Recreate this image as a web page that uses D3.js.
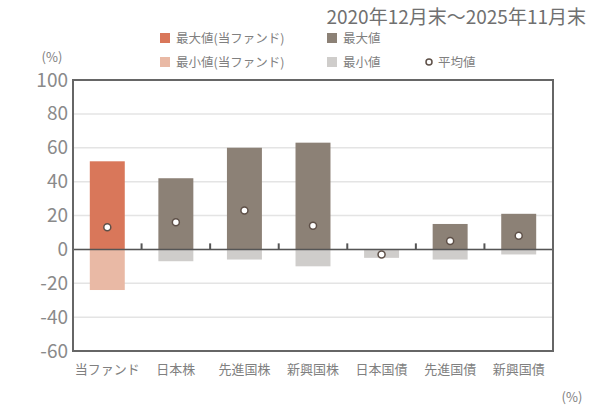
<!DOCTYPE html>
<html>
<head>
<meta charset="utf-8">
<script src="https://cdn.jsdelivr.net/npm/d3@7"></script>
<style>
body { margin: 0; background: #fff; }
text { font-family: "Noto Sans CJK JP", "Noto Sans", sans-serif; }
</style>
</head>
<body>
<div id="chart"></div>
<script>
var width = 596,
    height = 408;

var categories = ["当ファンド", "日本株", "先進国株", "新興国株", "日本国債", "先進国債", "新興国債"];
var maxValues = [52, 42, 60, 63, 0, 15, 21];
var minValues = [-24, -7, -6, -10, -5, -6, -3];
var avgValues = [13, 16, 23, 14, -3, 5, 8];
var yTicks = [-60, -40, -20, 0, 20, 40, 60, 80, 100];

var margin = {left: 73, right: 43, top: 80, bottom: 57};

var svg = d3.select("#chart").append("svg")
    .attr("width", width)
    .attr("height", height);

var x = d3.scaleBand()
    .domain(categories)
    .range([margin.left, width - margin.right])
    .paddingInner(0.49)
    .paddingOuter(0.245);

var y = d3.scaleLinear()
    .domain([-60, 100])
    .range([height - margin.bottom, margin.top]);

// gridlines
svg.selectAll("line.grid")
    .data(yTicks)
    .enter().append("line")
    .attr("class", "grid")
    .attr("x1", margin.left)
    .attr("x2", width - margin.right)
    .attr("y1", function (d) { return y(d); })
    .attr("y2", function (d) { return y(d); })
    .style("stroke", "#e4e4e4")
    .style("stroke-width", 1.5);

// bars
var data = categories.map(function (c, i) {
    return {cat: c, max: maxValues[i], min: minValues[i], avg: avgValues[i], fund: i === 0};
});

svg.selectAll("rect.min")
    .data(data)
    .enter().append("rect")
    .attr("class", "min")
    .attr("x", function (d) { return x(d.cat); })
    .attr("width", x.bandwidth())
    .attr("y", y(0))
    .attr("height", function (d) { return y(d.min) - y(0); })
    .style("fill", function (d) { return d.fund ? "#e9b9a5" : "#cfcdcb"; });

svg.selectAll("rect.max")
    .data(data)
    .enter().append("rect")
    .attr("class", "max")
    .attr("x", function (d) { return x(d.cat); })
    .attr("width", x.bandwidth())
    .attr("y", function (d) { return y(d.max); })
    .attr("height", function (d) { return y(0) - y(d.max); })
    .style("fill", function (d) { return d.fund ? "#d9775a" : "#8c8176"; });

// zero line and category ticks
svg.append("line")
    .attr("x1", margin.left)
    .attr("x2", width - margin.right)
    .attr("y1", y(0))
    .attr("y2", y(0))
    .style("stroke", "#555")
    .style("stroke-width", 1.5);

var step = (width - margin.left - margin.right) / categories.length;
svg.selectAll("line.ctick")
    .data(d3.range(1, categories.length))
    .enter().append("line")
    .attr("class", "ctick")
    .attr("x1", function (d) { return margin.left + d * step; })
    .attr("x2", function (d) { return margin.left + d * step; })
    .attr("y1", y(0))
    .attr("y2", y(0) - 6)
    .style("stroke", "#555")
    .style("stroke-width", 2);

// frame
svg.append("rect")
    .attr("x", margin.left)
    .attr("y", margin.top)
    .attr("width", width - margin.left - margin.right)
    .attr("height", height - margin.top - margin.bottom)
    .style("fill", "none")
    .style("stroke", "#666")
    .style("stroke-width", 2);

// average markers
svg.selectAll("circle.avg")
    .data(data)
    .enter().append("circle")
    .attr("class", "avg")
    .attr("cx", function (d) { return x(d.cat) + x.bandwidth() / 2; })
    .attr("cy", function (d) { return y(d.avg); })
    .attr("r", 3.5)
    .style("fill", "#fff")
    .style("stroke", "#5e5048")
    .style("stroke-width", 1.5);

// y axis labels
svg.selectAll("text.ytick")
    .data(yTicks)
    .enter().append("text")
    .attr("class", "ytick")
    .attr("x", margin.left - 5)
    .attr("y", function (d) { return y(d) + 6.5; })
    .attr("text-anchor", "end")
    .style("font-size", "19px")
    .style("fill", "#8a8a8a")
    .text(function (d) { return d; });

// x labels
svg.selectAll("text.xlab")
    .data(categories)
    .enter().append("text")
    .attr("class", "xlab")
    .attr("x", function (d) { return x(d) + x.bandwidth() / 2; })
    .attr("y", 374)
    .attr("text-anchor", "middle")
    .style("font-size", "13px")
    .style("fill", "#808080")
    .text(function (d) { return d; });

// unit labels
svg.append("text")
    .attr("x", 52).attr("y", 62)
    .attr("text-anchor", "middle")
    .style("font-size", "13px").style("fill", "#808080")
    .text("(%)");

svg.append("text")
    .attr("x", 572).attr("y", 402)
    .attr("text-anchor", "middle")
    .style("font-size", "13px").style("fill", "#808080")
    .text("(%)");

// period title
svg.append("text")
    .attr("x", 586).attr("y", 24)
    .attr("text-anchor", "end")
    .style("font-size", "19px").style("fill", "#707070")
    .text("2020年12月末～2025年11月末");

// legend
var legendItems = [
    {label: "最大値(当ファンド)", color: "#d9775a", x: 160, y: 38},
    {label: "最大値", color: "#8c8176", x: 327, y: 38},
    {label: "最小値(当ファンド)", color: "#e9b9a5", x: 160, y: 62},
    {label: "最小値", color: "#cfcdcb", x: 327, y: 62}
];

var legend = svg.selectAll("g.legend")
    .data(legendItems)
    .enter().append("g")
    .attr("class", "legend");

legend.append("rect")
    .attr("x", function (d) { return d.x; })
    .attr("y", function (d) { return d.y - 5; })
    .attr("width", 10)
    .attr("height", 10)
    .style("fill", function (d) { return d.color; });

legend.append("text")
    .attr("x", function (d) { return d.x + 16; })
    .attr("y", function (d) { return d.y + 4.5; })
    .style("font-size", "12.5px")
    .style("fill", "#808080")
    .text(function (d) { return d.label; });

svg.append("circle")
    .attr("cx", 429).attr("cy", 62)
    .attr("r", 3)
    .style("fill", "#fff")
    .style("stroke", "#5e5048")
    .style("stroke-width", 1.5);

svg.append("text")
    .attr("x", 438).attr("y", 66.5)
    .style("font-size", "12.5px").style("fill", "#808080")
    .text("平均値");
</script>
</body>
</html>
